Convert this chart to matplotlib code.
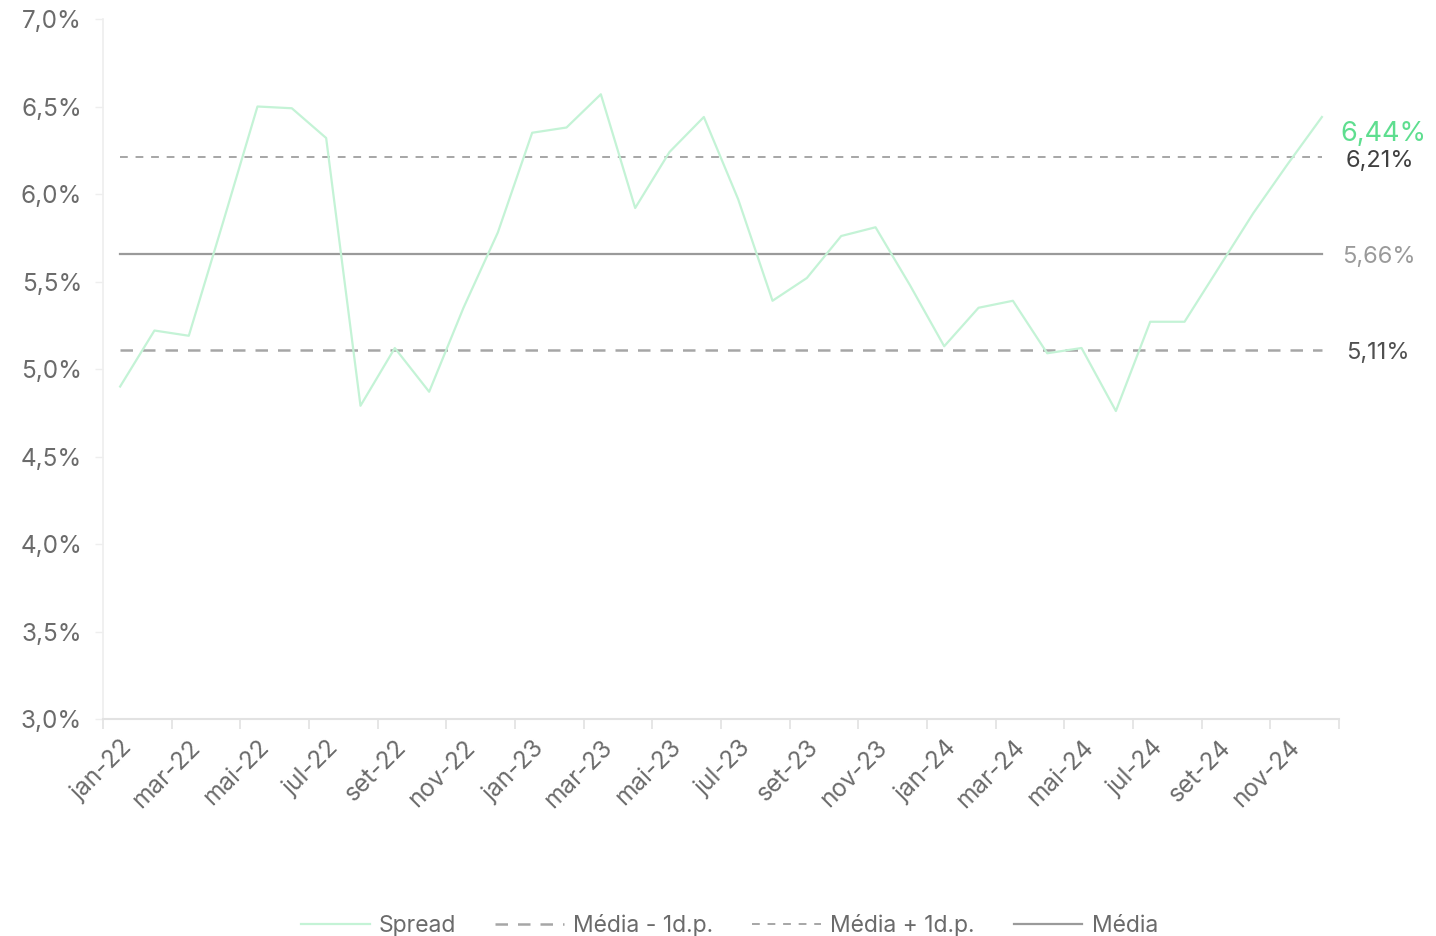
#!/usr/bin/env python3
"""Spread mensal com média e bandas de +/- 1 desvio padrão."""

import matplotlib

matplotlib.use("Agg")
import matplotlib.pyplot as plt
from matplotlib.ticker import FixedLocator, FuncFormatter

MONTHS = ["jan", "fev", "mar", "abr", "mai", "jun", "jul", "ago", "set", "out", "nov", "dez"]
CATEGORIES = [f"{m}-{y}" for y in ("22", "23", "24") for m in MONTHS]

SPREAD = [
    4.90, 5.22, 5.19, 5.84, 6.50, 6.49, 6.32, 4.79, 5.12, 4.87, 5.35, 5.78,
    6.35, 6.38, 6.57, 5.92, 6.24, 6.44, 5.97, 5.39, 5.52, 5.76, 5.81, 5.48,
    5.13, 5.35, 5.39, 5.09, 5.12, 4.76, 5.27, 5.27, 5.58, 5.89, 6.17, 6.44,
]
MEDIA = 5.66
MEDIA_MAIS_DP = 6.21
MEDIA_MENOS_DP = 5.11

Y_TICKS = [3.0, 3.5, 4.0, 4.5, 5.0, 5.5, 6.0, 6.5, 7.0]

GREEN_LINE = "#c4f3d6"
GREEN_TEXT = "#5ede8f"
GRAY_LINE = "#a6a6a6"
MEAN_LINE = "#9a9a9a"
AXIS_COLOR = "#e2e2e2"
TEXT_COLOR = "#6b6b6b"

plt.rcParams["font.family"] = ["Inter", "DejaVu Sans"]


def pct(v, _pos=None):
    return f"{v:.1f}%".replace(".", ",")


def pct2(v):
    return f"{v:.2f}%".replace(".", ",")


def main():
    fig = plt.figure(figsize=(14.36, 9.36), dpi=100)
    ax = fig.add_axes([0.0717, 0.2318, 0.8608, 0.7479])

    n = len(CATEGORIES)
    x = list(range(n))

    ax.plot(x, SPREAD, color=GREEN_LINE, linewidth=1.6, label="Spread", zorder=4)
    ax.plot(x, [MEDIA_MENOS_DP] * n, color=GRAY_LINE, linewidth=1.8,
            dashes=(5, 4), label="Média - 1d.p.", zorder=3)
    ax.plot(x, [MEDIA_MAIS_DP] * n, color=GRAY_LINE, linewidth=1.4,
            dashes=(4, 4), label="Média + 1d.p.", zorder=3)
    ax.plot(x, [MEDIA] * n, color=MEAN_LINE, linewidth=1.6, label="Média", zorder=3)

    ax.set_xlim(-0.5, n - 0.5)
    ax.set_ylim(3.0, 7.0)

    # rótulos à direita
    tx = n - 0.5 + 0.05
    ax.text(tx, SPREAD[-1] - 0.095, pct2(SPREAD[-1]), color=GREEN_TEXT,
            fontsize=19.5, va="center", ha="left", clip_on=False)
    ax.text(tx + 0.15, MEDIA_MAIS_DP - 0.02, pct2(MEDIA_MAIS_DP), color="#404040",
            fontsize=17, va="center", ha="left", clip_on=False)
    ax.text(tx + 0.05, MEDIA - 0.02, pct2(MEDIA), color="#9a9a9a",
            fontsize=17, va="center", ha="left", clip_on=False)
    ax.text(tx + 0.15, MEDIA_MENOS_DP - 0.02, pct2(MEDIA_MENOS_DP), color="#505050",
            fontsize=17, va="center", ha="left", clip_on=False)

    for side in ("top", "right"):
        ax.spines[side].set_visible(False)
    ax.spines["left"].set_color("#eeeeee")
    ax.spines["bottom"].set_color(AXIS_COLOR)
    ax.spines["left"].set_linewidth(1.2)
    ax.spines["bottom"].set_linewidth(1.5)

    ax.yaxis.set_major_locator(FixedLocator(Y_TICKS))
    ax.yaxis.set_major_formatter(FuncFormatter(pct))
    ax.tick_params(axis="y", length=6, width=1, color="#eeeeee", pad=9,
                   labelsize=17.5, labelcolor=TEXT_COLOR)

    label_pos = x[::2]
    ax.set_xticks(label_pos)
    ax.set_xticklabels(CATEGORIES[::2], rotation=45, ha="right",
                       rotation_mode="anchor")
    ax.tick_params(axis="x", which="major", length=0, pad=12,
                   labelsize=17.5, labelcolor=TEXT_COLOR)
    ax.set_xticks([p - 0.5 for p in range(0, n + 1, 2)], minor=True)
    ax.tick_params(axis="x", which="minor", length=7, width=1.2, color=AXIS_COLOR)

    fig.legend(loc="center", bbox_to_anchor=(0.508, 0.011), ncol=4, frameon=False,
               fontsize=16.5, labelcolor=TEXT_COLOR, handlelength=3.0,
               handletextpad=0.4, columnspacing=1.7)

    fig.savefig("out.png", dpi=100)
    plt.close(fig)


if __name__ == "__main__":
    main()
